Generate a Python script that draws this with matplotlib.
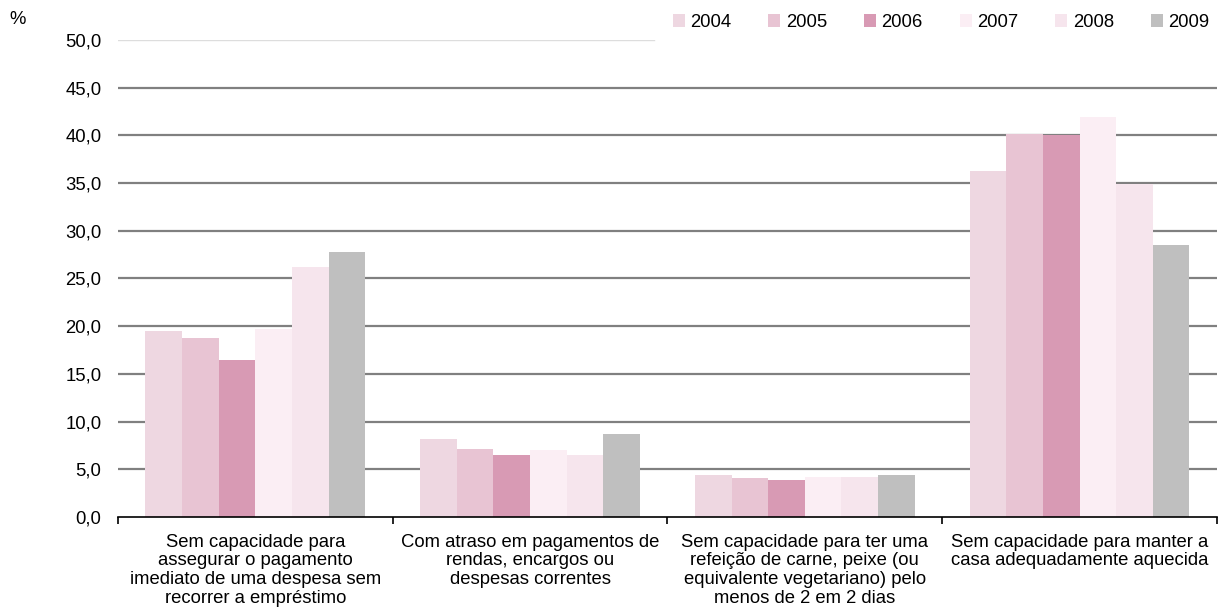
import numpy as np
import matplotlib.pyplot as plt
from matplotlib.ticker import FixedLocator, FuncFormatter

plt.rcParams['font.family'] = ['Liberation Sans', 'DejaVu Sans']
fs = 13.3

# categories and values (%)
categories = [
    'Sem capacidade para\nassegurar o pagamento\nimediato de uma despesa sem\nrecorrer a empréstimo',
    'Com atraso em pagamentos de\nrendas, encargos ou\ndespesas correntes',
    'Sem capacidade para ter uma\nrefeição de carne, peixe (ou\nequivalente vegetariano) pelo\nmenos de 2 em 2 dias',
    'Sem capacidade para manter a\ncasa adequadamente aquecida',
]
years = ['2004', '2005', '2006', '2007', '2008', '2009']
v2004 = [19.5, 8.2, 4.4, 36.3]
v2005 = [18.8, 7.1, 4.1, 40.1]
v2006 = [16.5, 6.5, 3.9, 40.0]
v2007 = [19.7, 7.0, 4.2, 41.9]
v2008 = [26.2, 6.5, 4.2, 34.9]
v2009 = [27.8, 8.7, 4.4, 28.5]
series = [v2004, v2005, v2006, v2007, v2008, v2009]
colors = ['#EED7E1', '#E8C4D3', '#D89AB4', '#FBEEF4', '#F6E5ED', '#BFBFBF']

fig = plt.figure(figsize=(12.21, 6.14), dpi=100)
ax = fig.add_axes([0.0966, 0.158, 0.9001, 0.777])

x = np.arange(len(categories))
w = 0.8 / len(years)
for i, (yr, vals) in enumerate(zip(years, series)):
    ax.bar(x - 0.4 + w * (i + 0.5), vals, width=w, color=colors[i], label=yr, zorder=2)

ax.set_xlim(-0.5, len(categories) - 0.5)
ax.set_ylim(0, 50)
ax.set_yticks(np.arange(0, 50.1, 5))
ax.yaxis.set_major_formatter(FuncFormatter(lambda v, p: f'{v:.1f}'.replace('.', ',')))
ax.tick_params(axis='y', length=0, pad=12, labelsize=fs)

# gridlines
for v in np.arange(5, 46, 5):
    ax.axhline(v, color='#808080', linewidth=1.6, zorder=1)
ax.axhline(50, xmax=0.488, color='#DDDDDD', linewidth=1.0, zorder=1)

# x axis: ticks at group boundaries, labels at centers
ax.xaxis.set_major_locator(FixedLocator(np.arange(-0.5, len(categories), 1)))
ax.xaxis.set_major_formatter(FuncFormatter(lambda v, p: ''))
ax.xaxis.set_minor_locator(FixedLocator(x))
ax.set_xticklabels(categories, minor=True, fontsize=fs, linespacing=1.13)
ax.tick_params(axis='x', which='major', direction='out', length=5, width=1.2, color='black')
ax.tick_params(axis='x', which='minor', length=0, pad=12)

for s in ['top', 'right', 'left']:
    ax.spines[s].set_visible(False)
ax.spines['bottom'].set_color('black')
ax.spines['bottom'].set_linewidth(1.2)
ax.spines['bottom'].set_zorder(3)

fig.text(0.008, 0.968, '%', fontsize=fs, va='center')

leg = ax.legend(loc='lower right', bbox_to_anchor=(1.0, 1.003), ncol=6, frameon=False,
                fontsize=fs, handlelength=0.65, handleheight=0.65, columnspacing=2.0,
                handletextpad=0.3, borderaxespad=0)

fig.savefig('out.png', dpi=100)
